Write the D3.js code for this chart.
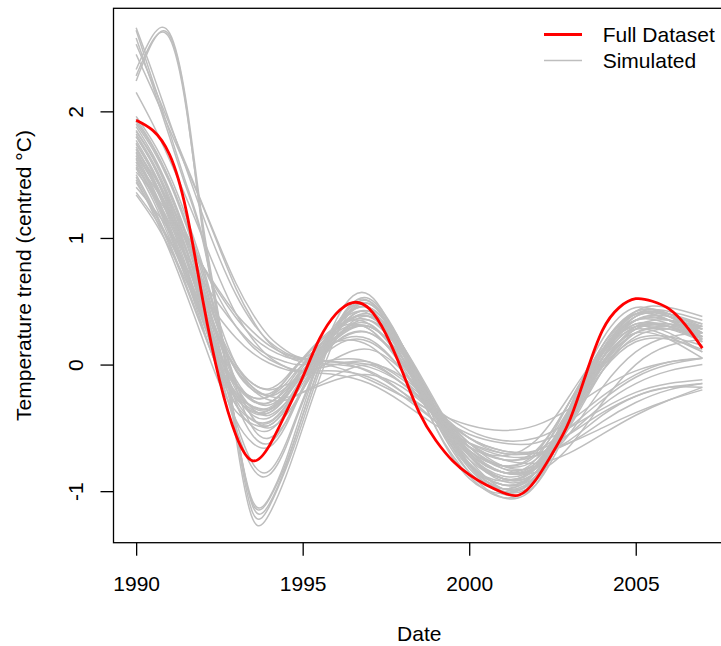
<!DOCTYPE html>
<html><head><meta charset="utf-8">
<script src="https://cdn.jsdelivr.net/npm/d3@7"></script>
<style>
html,body{margin:0;padding:0;background:#fff;overflow:hidden}
svg{display:block}
</style></head><body>
<svg id="chart" width="721" height="646"></svg>
<script>
// ---- data ----
const fullYears = [1990,1990.5,1991,1991.5,1992,1992.5,1993,1993.5,1994,1994.5,1995,1995.5,1996,1996.5,1997,1997.5,1998,1998.5,1999,1999.5,2000,2000.5,2001,2001.5,2002,2002.5,2003,2003.5,2004,2004.5,2005,2005.5,2006,2006.5,2007];
const fullDataset = [1.93,1.85,1.66,1.22,0.51,-0.12,-0.56,-0.76,-0.64,-0.38,-0.10,0.20,0.40,0.49,0.44,0.24,-0.06,-0.38,-0.60,-0.76,-0.87,-0.95,-1.01,-1.03,-0.91,-0.70,-0.45,-0.08,0.27,0.45,0.52,0.50,0.44,0.31,0.13];

const simYears = [1990,1990.5,1991,1991.5,1992,1992.5,1993,1993.5,1994,1994.5,1995,1996,1997,1998,1999,2000,2001,2002,2003,2004,2005,2006,2007];
const simulated = [
  [2.28,2.56,2.58,2.03,1.08,0.33,-0.50,-1.10,-1.06,-0.78,-0.40,0.30,0.50,0.10,-0.45,-0.85,-0.98,-0.85,-0.35,0.15,0.40,0.35,0.20],
  [2.33,2.60,2.62,2.08,1.12,0.35,-0.52,-1.17,-1.12,-0.82,-0.45,0.28,0.52,0.15,-0.40,-0.80,-0.95,-0.85,-0.40,0.10,0.35,0.32,0.22],
  [2.24,2.55,2.60,2.05,1.05,0.30,-0.58,-1.22,-1.18,-0.88,-0.50,0.22,0.48,0.12,-0.42,-0.82,-1.00,-0.90,-0.45,0.05,0.30,0.30,0.18],
  [2.64,2.24,1.84,1.43,1.00,0.30,-0.50,-1.08,-1.05,-0.75,-0.35,0.35,0.55,0.10,-0.50,-0.90,-1.02,-0.88,-0.35,0.20,0.45,0.38,0.28],
  [2.58,2.20,1.80,1.40,0.98,0.28,-0.50,-1.12,-1.10,-0.80,-0.40,0.30,0.45,0.05,-0.50,-0.88,-1.05,-0.92,-0.40,0.15,0.40,0.35,0.25],
  [2.66,2.30,1.92,1.55,1.18,0.84,0.55,0.33,0.18,0.09,0.05,0.02,-0.02,-0.15,-0.35,-0.52,-0.60,-0.58,-0.45,-0.25,-0.08,0.02,0.05],
  [2.53,2.22,1.90,1.58,1.26,0.94,0.64,0.40,0.22,0.11,0.05,0.02,0.00,-0.15,-0.38,-0.58,-0.68,-0.68,-0.55,-0.38,-0.25,-0.18,-0.15],
  [2.45,2.16,1.86,1.56,1.25,0.92,0.60,0.35,0.17,0.07,0.02,0.00,-0.05,-0.22,-0.45,-0.65,-0.75,-0.72,-0.55,-0.32,-0.15,-0.05,0.00],
  [2.15,1.90,1.62,1.32,1.00,0.68,0.40,0.20,0.06,-0.02,-0.05,0.00,0.02,-0.12,-0.35,-0.58,-0.70,-0.68,-0.50,-0.28,-0.10,0.00,0.05],
  [1.96,1.76,1.50,1.17,0.78,0.30,-0.18,-0.50,-0.58,-0.45,-0.20,0.25,0.42,0.10,-0.40,-0.78,-0.95,-0.85,-0.40,0.10,0.40,0.42,0.35],
  [1.90,1.70,1.44,1.10,0.70,0.25,-0.15,-0.42,-0.48,-0.35,-0.12,0.30,0.40,0.05,-0.45,-0.80,-0.92,-0.80,-0.35,0.15,0.42,0.40,0.30],
  [1.85,1.64,1.37,1.03,0.62,0.14,-0.30,-0.56,-0.62,-0.45,-0.18,0.28,0.45,0.12,-0.38,-0.75,-0.98,-0.90,-0.45,0.05,0.35,0.38,0.32],
  [1.80,1.58,1.30,0.96,0.58,0.18,-0.12,-0.28,-0.32,-0.22,-0.05,0.20,0.30,0.05,-0.35,-0.70,-0.85,-0.75,-0.30,0.12,0.35,0.35,0.28],
  [1.75,1.52,1.24,0.90,0.50,0.08,-0.24,-0.40,-0.42,-0.30,-0.10,0.22,0.32,0.02,-0.40,-0.72,-0.88,-0.80,-0.38,0.08,0.32,0.30,0.22],
  [1.72,1.48,1.20,0.86,0.48,0.10,-0.16,-0.29,-0.30,-0.18,0.00,0.28,0.35,0.08,-0.32,-0.65,-0.82,-0.78,-0.42,0.00,0.25,0.28,0.22],
  [1.68,1.45,1.16,0.82,0.42,0.00,-0.32,-0.49,-0.52,-0.37,-0.10,0.32,0.45,0.15,-0.35,-0.78,-1.00,-0.92,-0.45,0.05,0.38,0.40,0.28],
  [1.65,1.40,1.10,0.76,0.40,0.05,-0.16,-0.26,-0.25,-0.12,0.05,0.30,0.32,0.02,-0.38,-0.68,-0.80,-0.70,-0.30,0.10,0.28,0.22,0.10],
  [1.62,1.37,1.06,0.72,0.35,-0.02,-0.26,-0.38,-0.38,-0.25,-0.05,0.25,0.28,-0.02,-0.42,-0.75,-0.90,-0.82,-0.40,0.05,0.30,0.30,0.18],
  [1.58,1.33,1.03,0.68,0.30,-0.07,-0.32,-0.44,-0.45,-0.32,-0.12,0.18,0.25,0.00,-0.38,-0.70,-0.85,-0.78,-0.38,0.02,0.28,0.32,0.30],
  [1.55,1.30,1.00,0.68,0.34,0.02,-0.17,-0.26,-0.25,-0.15,0.00,0.18,0.20,-0.05,-0.40,-0.68,-0.80,-0.72,-0.35,0.05,0.25,0.20,0.05],
  [1.50,1.25,0.96,0.63,0.28,-0.06,-0.27,-0.37,-0.36,-0.22,-0.02,0.28,0.38,0.10,-0.35,-0.72,-0.90,-0.85,-0.45,0.00,0.30,0.35,0.30],
  [1.46,1.20,0.90,0.56,0.20,-0.15,-0.37,-0.47,-0.48,-0.35,-0.15,0.20,0.30,0.05,-0.40,-0.78,-0.95,-0.88,-0.48,-0.02,0.25,0.28,0.18],
  [1.88,1.66,1.38,1.04,0.66,0.26,-0.05,-0.20,-0.23,-0.12,0.04,0.28,0.28,0.00,-0.35,-0.62,-0.75,-0.68,-0.30,0.10,0.32,0.30,0.20],
  [1.82,1.60,1.32,0.98,0.62,0.26,0.00,-0.15,-0.19,-0.10,0.04,0.18,0.15,-0.10,-0.42,-0.65,-0.72,-0.60,-0.25,0.12,0.30,0.25,0.10],
  [1.70,1.47,1.18,0.84,0.45,0.04,-0.28,-0.44,-0.46,-0.33,-0.12,0.25,0.38,0.08,-0.40,-0.80,-0.98,-0.90,-0.42,0.08,0.38,0.38,0.25],
  [1.77,1.54,1.26,0.92,0.54,0.12,-0.20,-0.34,-0.36,-0.25,-0.08,0.22,0.30,0.05,-0.35,-0.68,-0.85,-0.82,-0.50,-0.05,0.25,0.30,0.28],
  [1.60,1.35,1.05,0.71,0.35,0.00,-0.22,-0.33,-0.35,-0.24,-0.08,0.15,0.18,-0.05,-0.40,-0.70,-0.85,-0.80,-0.45,-0.05,0.18,0.20,0.12],
  [1.92,1.72,1.46,1.13,0.74,0.28,-0.14,-0.42,-0.50,-0.40,-0.20,0.20,0.38,0.12,-0.32,-0.72,-0.92,-0.85,-0.40,0.10,0.42,0.45,0.38],
  [1.67,1.44,1.14,0.78,0.37,-0.08,-0.44,-0.62,-0.65,-0.48,-0.20,0.25,0.42,0.12,-0.38,-0.80,-1.02,-0.95,-0.48,0.05,0.35,0.35,0.22],
  [1.80,1.58,1.28,0.92,0.50,0.02,-0.45,-0.78,-0.84,-0.62,-0.28,0.30,0.50,0.15,-0.38,-0.80,-0.98,-0.88,-0.40,0.12,0.42,0.40,0.25],
  [1.74,1.52,1.22,0.86,0.44,-0.04,-0.50,-0.82,-0.87,-0.65,-0.30,0.28,0.48,0.12,-0.42,-0.85,-1.05,-0.95,-0.42,0.10,0.40,0.38,0.22],
  [1.84,1.63,1.35,1.01,0.62,0.18,-0.16,-0.35,-0.40,-0.30,-0.12,0.30,0.45,0.15,-0.32,-0.72,-0.90,-0.82,-0.38,0.10,0.38,0.40,0.32],
  [1.63,1.38,1.08,0.74,0.37,0.00,-0.24,-0.36,-0.38,-0.26,-0.08,0.22,0.35,0.10,-0.35,-0.72,-0.90,-0.85,-0.45,0.00,0.28,0.32,0.25],
  [1.94,1.73,1.46,1.12,0.74,0.33,0.00,-0.18,-0.25,-0.18,-0.05,0.18,0.25,0.02,-0.35,-0.65,-0.80,-0.75,-0.42,-0.02,0.20,0.22,0.15],
  [1.48,1.23,0.94,0.61,0.27,-0.05,-0.24,-0.33,-0.34,-0.22,-0.05,0.26,0.40,0.15,-0.30,-0.70,-0.90,-0.85,-0.48,-0.05,0.22,0.28,0.25],
  [1.34,1.15,0.92,0.66,0.38,0.08,-0.15,-0.28,-0.30,-0.20,-0.05,0.22,0.30,0.05,-0.35,-0.68,-0.85,-0.80,-0.42,0.02,0.28,0.30,0.22],
  [1.52,1.36,1.18,0.98,0.78,0.58,0.40,0.26,0.15,0.08,0.04,-0.02,-0.12,-0.25,-0.38,-0.48,-0.52,-0.48,-0.35,-0.18,-0.05,0.02,0.05],
  [1.60,1.42,1.22,1.00,0.78,0.56,0.37,0.22,0.12,0.06,0.04,0.02,-0.06,-0.22,-0.40,-0.55,-0.62,-0.62,-0.50,-0.35,-0.22,-0.15,-0.12],
  [1.40,1.24,1.06,0.86,0.66,0.47,0.30,0.16,0.07,0.02,0.00,0.04,0.02,-0.15,-0.38,-0.58,-0.68,-0.70,-0.62,-0.45,-0.30,-0.20,-0.15],
  [1.70,1.50,1.28,1.04,0.78,0.52,0.30,0.14,0.04,-0.02,-0.05,-0.05,-0.10,-0.25,-0.45,-0.62,-0.72,-0.72,-0.60,-0.40,-0.25,-0.18,-0.18],
  [1.36,1.18,0.98,0.77,0.56,0.37,0.21,0.09,0.01,-0.04,-0.06,-0.08,-0.15,-0.30,-0.48,-0.62,-0.70,-0.70,-0.62,-0.50,-0.38,-0.28,-0.20],
  [1.65,1.45,1.20,0.90,0.56,0.22,-0.04,-0.20,-0.28,-0.28,-0.22,-0.08,0.00,-0.10,-0.35,-0.62,-0.80,-0.80,-0.55,-0.18,0.10,0.22,0.25],
  [1.56,1.36,1.12,0.84,0.52,0.20,-0.04,-0.18,-0.25,-0.26,-0.22,-0.12,-0.08,-0.18,-0.40,-0.65,-0.82,-0.85,-0.65,-0.30,0.00,0.15,0.20],
  [1.44,1.22,0.98,0.72,0.45,0.20,-0.02,-0.15,-0.20,-0.16,-0.10,0.05,0.12,-0.05,-0.35,-0.62,-0.75,-0.78,-0.70,-0.55,-0.40,-0.28,-0.18]
];

const xTicks = [1990, 1995, 2000, 2005];
const yTicks = [-1, 0, 1, 2];
const legendLabels = ["Full Dataset", "Simulated"];
const legendColors = ["#FF0000", "#BEBEBE"];
const xTitle = "Date";
const yTitle = "Temperature trend (centred °C)";

// ---- layout ----
const FONT = '"Liberation Sans", Arial, Helvetica, sans-serif';
const FS = 21;
const L = 113.5, R = 725, T = 8.3, B = 542.7;

const svg = d3.select("#chart");
const x = d3.scaleLinear().domain([1989.32, 2007.68]).range([L, R]);
const y = d3.scaleLinear().domain([-1.407, 2.814]).range([B, T]);

const simLine = d3.line().x((d, i) => x(simYears[i])).y(d => y(d)).curve(d3.curveNatural);
const fullLine = d3.line().x((d, i) => x(fullYears[i])).y(d => y(d)).curve(d3.curveNatural);

svg.append("g").selectAll("path").data(simulated).join("path")
  .attr("d", simLine).attr("fill", "none").attr("stroke", "#BEBEBE")
  .attr("stroke-width", 1.5).attr("stroke-linejoin", "round");

svg.append("path").datum(fullDataset).attr("d", fullLine)
  .attr("fill", "none").attr("stroke", "#FF0000").attr("stroke-width", 2.8)
  .attr("stroke-linejoin", "round");

// box
svg.append("rect").attr("x", L).attr("y", T).attr("width", R - L).attr("height", B - T)
  .attr("fill", "none").attr("stroke", "#000").attr("stroke-width", 1.3);

// x axis
const gx = svg.append("g").attr("transform", `translate(0,${B})`)
  .call(d3.axisBottom(x).tickValues(xTicks).tickSize(13).tickFormat(d3.format("d")));
gx.select(".domain").remove();
gx.attr("font-family", FONT).attr("font-size", FS);
gx.selectAll(".tick line").attr("stroke", "#000").attr("stroke-width", 1.3);
gx.selectAll(".tick text").attr("y", 48).attr("dy", null).attr("fill", "#000");

// y axis
const gy = svg.append("g").attr("transform", `translate(${L},0)`)
  .call(d3.axisLeft(y).tickValues(yTicks).tickSize(13).tickFormat(d => d < 0 ? "-" + Math.abs(d) : String(d)));
gy.select(".domain").remove();
gy.attr("font-family", FONT).attr("font-size", FS);
gy.selectAll(".tick line").attr("stroke", "#000").attr("stroke-width", 1.3);
gy.selectAll(".tick text").attr("x", 0).attr("dy", null).attr("text-anchor", "middle")
  .attr("fill", "#000").attr("transform", "translate(-30.5,0) rotate(-90)");

// titles
svg.append("text").attr("x", (L + R) / 2).attr("y", 640.7).attr("text-anchor", "middle")
  .attr("font-family", FONT).attr("font-size", FS).attr("fill", "#000").text(xTitle);
svg.append("text").attr("transform", `translate(31,${(T + B) / 2}) rotate(-90)`)
  .attr("text-anchor", "middle").attr("font-family", FONT).attr("font-size", FS)
  .attr("fill", "#000").text(yTitle);

// legend
const lg = svg.append("g").selectAll("g").data(legendLabels).join("g")
  .attr("transform", (d, i) => `translate(0,${34.5 + i * 26})`);
lg.append("line").attr("x1", 544).attr("x2", 582).attr("y1", 0).attr("y2", 0)
  .attr("stroke", (d, i) => legendColors[i]).attr("stroke-width", (d, i) => i === 0 ? 2.8 : 1.5);
lg.append("text").attr("x", 602.7).attr("y", 7.5).attr("font-family", FONT)
  .attr("font-size", FS).attr("fill", "#000").text(d => d);
</script>
</body></html>
